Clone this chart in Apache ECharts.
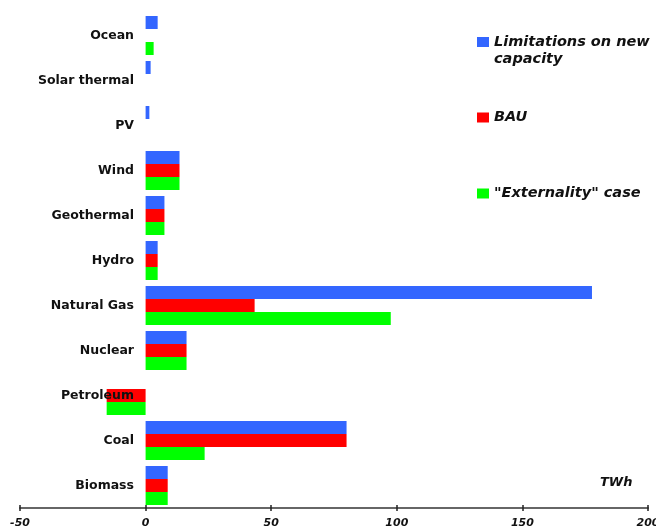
<!DOCTYPE html>
<html><head><meta charset="utf-8">
<script src="https://cdn.jsdelivr.net/npm/echarts@6/dist/echarts.min.js"></script>
<style>html,body{margin:0;padding:0;background:#fff}#c{width:656px;height:531px}</style>
</head><body><div id="c"></div>
<script>
const categories = ['Biomass','Coal','Petroleum','Nuclear','Natural Gas','Hydro','Geothermal','Wind','PV','Solar thermal','Ocean'];
const limitations = [8.8, 80, null, 16.3, 177.7, 4.8, 7.5, 13.5, 1.5, 2, 4.8];
const bau = [8.8, 80, -15.5, 16.3, 43.4, 4.8, 7.5, 13.5, null, null, null];
const externality = [8.8, 23.5, -15.5, 16.3, 97.6, 4.8, 7.5, 13.5, null, null, 3.2];
const xTicks = {min: -50, max: 200, interval: 50};
const names = ['Limitations on new capacity', 'BAU', '"Externality" case'];

const chart = echarts.init(document.getElementById('c'));
const FONT = 'DejaVu Sans';
const legendText = {fontFamily: FONT, fontSize: 14.5, fontWeight: 'bold', fontStyle: 'italic', color: '#111', lineHeight: 17};
function mkLegend(name, top) {
  return {
    data: [name], left: 472, top: top, orient: 'vertical', itemWidth: 12, itemHeight: 10, itemGap: 0,
    icon: 'rect', selectedMode: false,
    formatter: n => n === names[0] ? '\nLimitations on new\ncapacity' : n,
    textStyle: legendText
  };
}
chart.setOption({
  animation: false,
  grid: {left: 20, right: 8, top: 13, bottom: 23, containLabel: false, outerBoundsMode: 'none'},
  legend: [mkLegend(names[0], 11.5), mkLegend(names[1], 104), mkLegend(names[2], 180)],
  xAxis: [{
    type: 'value', min: xTicks.min, max: xTicks.max, interval: xTicks.interval,
    splitLine: {show: false},
    axisLine: {show: true, lineStyle: {color: '#666', width: 2}},
    axisTick: {show: true, length: 3, lineStyle: {color: '#222', width: 1.5}},
    axisLabel: {margin: 10, fontFamily: FONT, fontSize: 11, fontWeight: 'bold', fontStyle: 'italic', color: '#111'}
  }, {
    type: 'value', min: xTicks.min, max: xTicks.max, interval: xTicks.interval, position: 'bottom',
    splitLine: {show: false}, axisLine: {show: false},
    axisTick: {show: true, inside: true, length: 3, lineStyle: {color: '#222', width: 1.5}},
    axisLabel: {show: false}
  }],
  yAxis: {
    type: 'category', data: categories, z: 5, offset: -126,
    axisLine: {show: false}, axisTick: {show: false}, splitLine: {show: false},
    axisLabel: {margin: 12, fontFamily: FONT, fontSize: 12.5, fontWeight: 'bold', color: '#111'}
  },
  series: [
    {name: names[0], type: 'bar', data: limitations, barWidth: 13, barGap: '0%', itemStyle: {color: '#3366FF'}},
    {name: names[1], type: 'bar', data: bau, barWidth: 13, barGap: '0%', itemStyle: {color: '#FF0000'}},
    {name: names[2], type: 'bar', data: externality, barWidth: 13, barGap: '0%', itemStyle: {color: '#00FF00'}}
  ],
  graphic: [{type: 'text', left: 600, top: 476, style: {text: 'TWh', font: 'italic bold 13px "DejaVu Sans"', fill: '#111'}}]
});
</script></body></html>
